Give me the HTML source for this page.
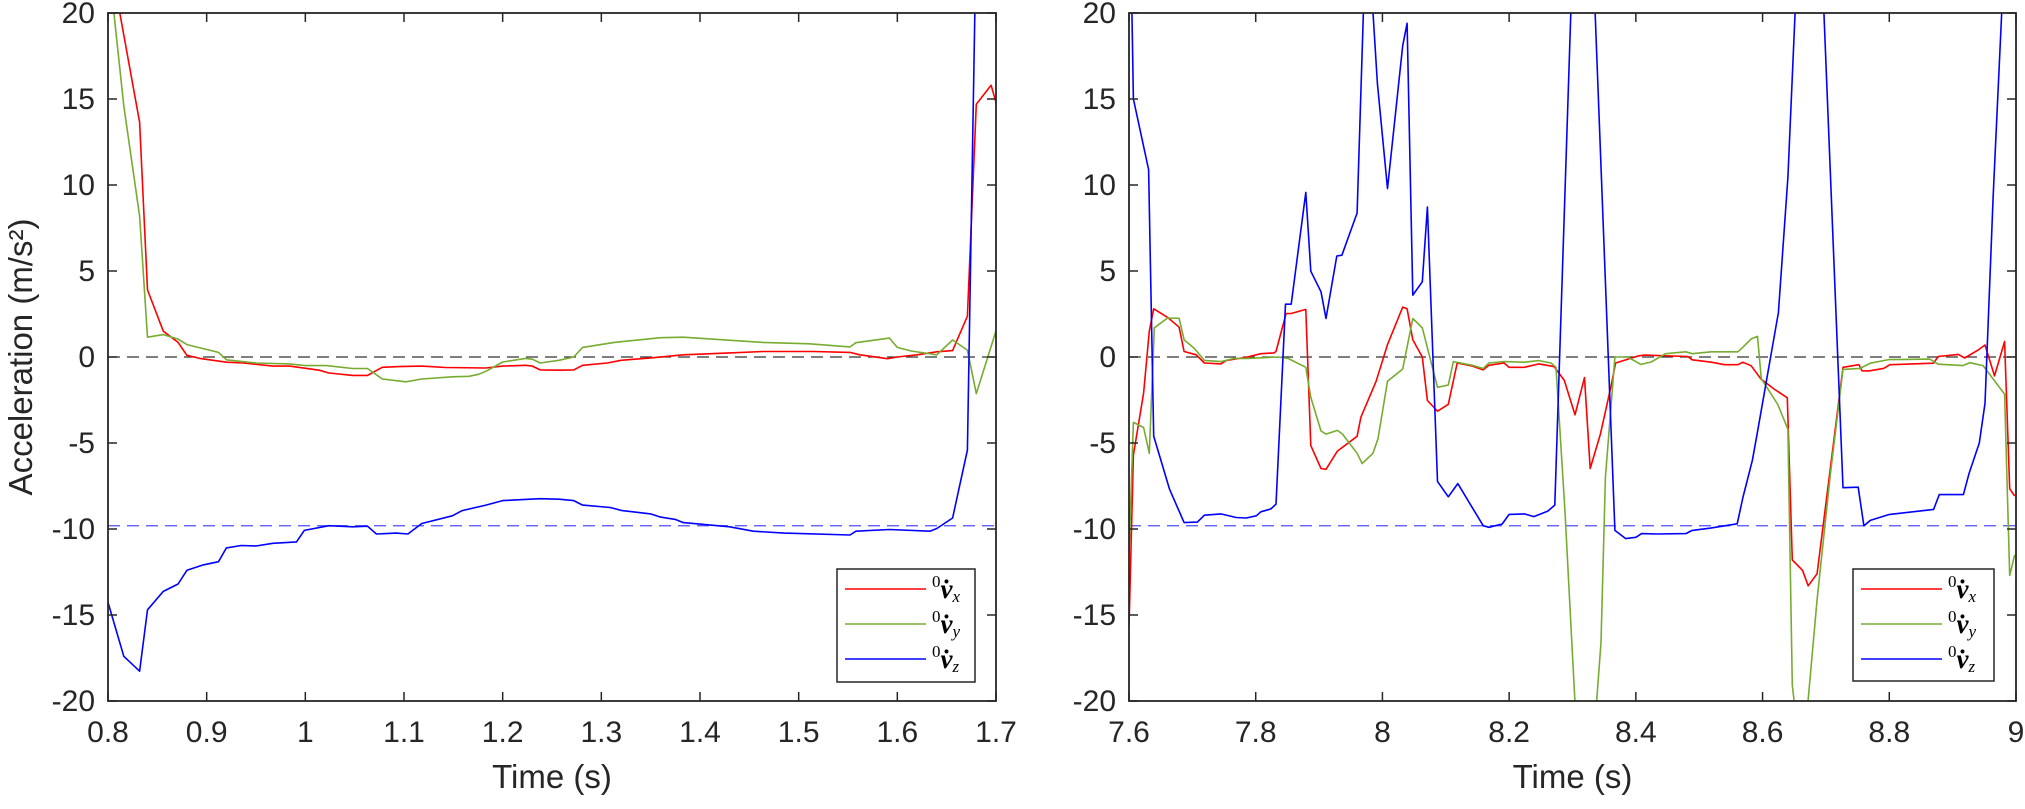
<!DOCTYPE html>
<html><head><meta charset="utf-8"><style>
html,body{margin:0;padding:0;background:#fff;width:2025px;height:809px;overflow:hidden;}
svg{display:block;font-family:"Liberation Sans",Arial,sans-serif;}
</style></head><body>
<svg id="fig" width="2025" height="809" viewBox="0 0 2025 809" xmlns="http://www.w3.org/2000/svg"></svg>
<script>
// ---------- Left panel data ----------
const leftXTicks = [0.8,0.9,1,1.1,1.2,1.3,1.4,1.5,1.6,1.7];
const yTicks = [20,15,10,5,0,-5,-10,-15,-20];
const rightXTicks = [7.6,7.8,8,8.2,8.4,8.6,8.8,9];
const gravityRef = -9.81;

const lRedT = [0.8,0.812,0.832,0.84,0.856,0.871,0.88,0.893,0.92,0.937,0.967,0.984,1.014,1.024,1.048,1.063,1.078,1.095,1.118,1.142,1.183,1.2,1.223,1.23,1.238,1.257,1.272,1.281,1.306,1.32,1.35,1.383,1.43,1.464,1.515,1.552,1.562,1.59,1.6,1.62,1.64,1.656,1.671,1.68,1.695,1.7];
const lRedV = [24,20,13.65,3.9,1.5,0.85,0.1,-0.08,-0.3,-0.35,-0.53,-0.53,-0.77,-0.93,-1.07,-1.07,-0.6,-0.56,-0.53,-0.61,-0.64,-0.53,-0.48,-0.53,-0.75,-0.77,-0.75,-0.48,-0.35,-0.19,-0.05,0.13,0.24,0.32,0.32,0.27,0.13,-0.1,0,0.13,0.3,0.37,2.37,14.7,15.8,14.8];
const lGreenT = [0.8,0.806,0.816,0.832,0.84,0.856,0.871,0.88,0.912,0.92,0.95,0.984,1.0,1.021,1.048,1.063,1.078,1.102,1.118,1.149,1.166,1.176,1.184,1.2,1.223,1.23,1.238,1.257,1.272,1.281,1.313,1.36,1.383,1.464,1.511,1.552,1.558,1.592,1.6,1.614,1.64,1.656,1.671,1.68,1.7];
const lGreenV = [22,20,14.6,8.2,1.15,1.3,1.04,0.72,0.27,-0.16,-0.35,-0.4,-0.5,-0.5,-0.67,-0.67,-1.28,-1.44,-1.28,-1.15,-1.12,-1.0,-0.8,-0.29,-0.08,-0.13,-0.35,-0.19,0,0.56,0.85,1.12,1.15,0.85,0.77,0.59,0.83,1.1,0.56,0.35,0.13,0.99,0.4,-2.13,1.52];
const lBlueT = [0.8,0.816,0.832,0.84,0.856,0.871,0.88,0.897,0.912,0.92,0.935,0.95,0.967,0.991,0.999,1.024,1.048,1.063,1.072,1.092,1.104,1.118,1.149,1.159,1.183,1.2,1.238,1.257,1.272,1.281,1.309,1.321,1.35,1.36,1.375,1.383,1.43,1.454,1.485,1.552,1.558,1.592,1.633,1.64,1.656,1.671,1.68];
const lBlueV = [-14.27,-17.4,-18.27,-14.7,-13.63,-13.2,-12.4,-12.08,-11.9,-11.1,-10.96,-10.99,-10.83,-10.75,-10.08,-9.81,-9.87,-9.84,-10.29,-10.24,-10.29,-9.68,-9.23,-8.93,-8.61,-8.35,-8.24,-8.27,-8.35,-8.61,-8.75,-8.93,-9.12,-9.31,-9.44,-9.63,-9.87,-10.13,-10.24,-10.35,-10.13,-10.03,-10.13,-9.97,-9.36,-5.41,25];

// ---------- Right panel data ----------
const rRedT = [7.6,7.607,7.623,7.632,7.639,7.661,7.679,7.687,7.706,7.719,7.745,7.753,7.787,7.808,7.829,7.832,7.848,7.856,7.879,7.887,7.903,7.911,7.929,7.96,7.966,7.99,8.008,8.032,8.039,8.048,8.063,8.071,8.087,8.104,8.118,8.142,8.159,8.168,8.192,8.2,8.224,8.247,8.271,8.287,8.304,8.319,8.328,8.344,8.361,8.368,8.403,8.413,8.482,8.489,8.519,8.54,8.561,8.569,8.582,8.597,8.618,8.639,8.647,8.663,8.672,8.686,8.727,8.752,8.757,8.768,8.791,8.801,8.87,8.877,8.909,8.919,8.94,8.951,8.966,8.982,8.99,8.998];
const rRedV = [-15.7,-5.7,-2.1,1.5,2.8,2.3,1.73,0.32,0.13,-0.35,-0.4,-0.21,0,0.19,0.24,0.32,2.53,2.53,2.77,-5.15,-6.48,-6.53,-5.47,-4.61,-3.5,-1.41,0.72,2.9,2.8,1.0,0,-2.53,-3.15,-2.75,-0.35,-0.53,-0.75,-0.48,-0.35,-0.6,-0.6,-0.4,-0.56,-1.36,-3.36,-1.2,-6.48,-4.48,-1.68,-0.35,0.05,0.11,0.03,-0.16,-0.3,-0.45,-0.45,-0.3,-0.51,-1.26,-1.86,-2.37,-11.8,-12.4,-13.3,-12.6,-0.6,-0.45,-0.8,-0.81,-0.66,-0.45,-0.36,0.03,0.15,-0.06,0.4,0.7,-1.1,0.9,-7.66,-8.08];
const rGreenT = [7.6,7.607,7.623,7.632,7.64,7.661,7.679,7.687,7.703,7.719,7.745,7.766,7.787,7.835,7.851,7.879,7.887,7.903,7.911,7.929,7.937,7.96,7.968,7.985,7.993,8.008,8.032,8.048,8.063,8.087,8.104,8.112,8.142,8.159,8.168,8.192,8.224,8.247,8.266,8.274,8.288,8.318,8.345,8.352,8.367,8.387,8.408,8.424,8.447,8.479,8.489,8.519,8.561,8.569,8.582,8.592,8.598,8.624,8.64,8.647,8.662,8.686,8.707,8.727,8.754,8.77,8.799,8.864,8.877,8.916,8.927,8.948,8.982,8.99,8.998];
const rGreenV = [-11.5,-3.8,-4.1,-5.6,1.7,2.27,2.25,1.0,0.5,-0.2,-0.27,-0.08,-0.08,0,-0.08,-0.6,-2.35,-4.3,-4.48,-4.27,-4.48,-5.6,-6.2,-5.6,-4.75,-1.41,-0.7,2.24,1.7,-1.76,-1.63,-0.27,-0.48,-0.67,-0.35,-0.27,-0.3,-0.21,-0.35,-0.6,-8.9,-30,-16.6,-7,0,0,-0.43,-0.29,0.19,0.3,0.19,0.3,0.3,0.57,1.05,1.2,-1.26,-2.76,-4.2,-19.07,-24,-14.1,-6.8,-0.72,-0.66,-0.36,-0.15,-0.12,-0.42,-0.5,-0.33,-0.5,-2.16,-12.7,-11.5];
const rBlueT = [7.6,7.607,7.631,7.639,7.664,7.687,7.708,7.719,7.745,7.769,7.785,7.801,7.808,7.824,7.832,7.847,7.856,7.879,7.887,7.903,7.911,7.928,7.936,7.96,7.975,7.992,8.008,8.032,8.039,8.048,8.063,8.071,8.087,8.104,8.119,8.159,8.168,8.189,8.2,8.224,8.239,8.261,8.272,8.315,8.367,8.384,8.4,8.409,8.432,8.479,8.489,8.518,8.56,8.569,8.584,8.592,8.625,8.64,8.675,8.727,8.751,8.76,8.77,8.799,8.87,8.879,8.917,8.926,8.942,8.951,8.964,8.99];
const rBlueV = [30,15,10.9,-4.6,-7.68,-9.63,-9.6,-9.2,-9.12,-9.33,-9.36,-9.23,-9.0,-8.83,-8.56,3.07,3.07,9.57,4.99,3.79,2.24,5.87,5.92,8.37,26,15.9,9.79,18.1,19.4,3.6,4.37,8.72,-7.23,-8.13,-7.36,-9.81,-9.9,-9.71,-9.15,-9.12,-9.28,-8.96,-8.61,40,-10.08,-10.56,-10.48,-10.27,-10.29,-10.27,-10.08,-9.95,-9.7,-8.17,-6.0,-4.35,2.58,10.45,40,-7.6,-7.57,-9.82,-9.5,-9.16,-8.86,-8.0,-8.0,-6.76,-5.0,-2.7,9.4,30];

const NS = "http://www.w3.org/2000/svg";
const svg = document.getElementById('fig');
function mk(tag, attrs, parent){
  const e = document.createElementNS(NS, tag);
  for (const k in attrs) e.setAttribute(k, attrs[k]);
  (parent||svg).appendChild(e);
  return e;
}
const Y0 = 13, Y1 = 701;
function yScale(v){ return Y0 + (20 - v) / 40 * (Y1 - Y0); }
const panels = [
  {id:'left', x0:108, x1:996, t0:0.8, t1:1.7, ticks:leftXTicks,
   series:[[lRedT,lRedV,'#ff0000','vx'],[lGreenT,lGreenV,'#77ac30','vy'],[lBlueT,lBlueV,'#0000ff','vz']],
   legend:{x:837,y:569,w:138,h:113}},
  {id:'right', x0:1129, x1:2016, t0:7.6, t1:9.0, ticks:rightXTicks,
   series:[[rRedT,rRedV,'#ff0000','vx'],[rGreenT,rGreenV,'#77ac30','vy'],[rBlueT,rBlueV,'#0000ff','vz']],
   legend:{x:1853,y:569,w:141,h:112}}
];
panels.forEach(p => {
  const xs = t => p.x0 + (t - p.t0) / (p.t1 - p.t0) * (p.x1 - p.x0);
  const g = mk('g', {});
  
  
  const cp = mk('clipPath', {id:'clip-'+p.id}, g);
  mk('rect', {x:p.x0, y:Y0, width:p.x1-p.x0, height:Y1-Y0}, cp);
  const z = mk('line', {x1:p.x0, x2:p.x1, y1:yScale(0), y2:yScale(0), stroke:'#333', 'stroke-width':1.3, 'stroke-dasharray':'12,7'}, g);
  
  
  const gr = mk('line', {x1:p.x0, x2:p.x1, y1:yScale(gravityRef), y2:yScale(gravityRef), stroke:'#4d4dff', 'stroke-width':1.3, 'stroke-dasharray':'12,7'}, g);
  
  
  const sg = mk('g', {'clip-path':'url(#clip-'+p.id+')'}, g);
  p.series.forEach(s => {
    const pts = s[0].map((t,i) => xs(t).toFixed(1) + ',' + yScale(s[1][i]).toFixed(1)).join(' ');
    const pl = mk('polyline', {points:pts, fill:'none', stroke:s[2], 'stroke-width':1.6, 'stroke-linejoin':'round'}, sg);
    
    
  });
  const box = mk('rect', {x:p.x0, y:Y0, width:p.x1-p.x0, height:Y1-Y0, fill:'none', stroke:'#262626', 'stroke-width':1.8}, g);
  
  
  p.ticks.forEach(t => {
    const x = xs(t);
    mk('line', {x1:x, x2:x, y1:Y1, y2:Y1-9, stroke:'#262626', 'stroke-width':1.5}, g);
    mk('line', {x1:x, x2:x, y1:Y0, y2:Y0+9, stroke:'#262626', 'stroke-width':1.5}, g);
    const tx = mk('text', {x:x, y:742, 'font-size':30, fill:'#262626', 'text-anchor':'middle'}, g);
    tx.textContent = String(t);
    
    
  });
  yTicks.forEach(v => {
    const y = yScale(v);
    mk('line', {x1:p.x0, x2:p.x0+9, y1:y, y2:y, stroke:'#262626', 'stroke-width':1.5}, g);
    mk('line', {x1:p.x1, x2:p.x1-9, y1:y, y2:y, stroke:'#262626', 'stroke-width':1.5}, g);
    const ty = mk('text', {x:p.x0-13, y:y+10, 'font-size':30, fill:'#262626', 'text-anchor':'end'}, g);
    ty.textContent = String(v);
    
    
  });
  const xt = mk('text', {x:(p.x0+p.x1)/2, y:788, 'font-size':33, fill:'#262626', 'text-anchor':'middle'}, g);
  xt.textContent = 'Time (s)';
  
  
  const L = p.legend;
  const lg = mk('g', {}, g);
  
  
  mk('rect', {x:L.x, y:L.y, width:L.w, height:L.h, fill:'#fff', stroke:'#262626', 'stroke-width':1.5}, lg);
  const subs = ['x','y','z'];
  p.series.forEach((s,i) => {
    const ly = L.y + 20 + i*35;
    const e = mk('g', {}, lg);
    
    
    mk('line', {x1:L.x+8, x2:L.x+89, y1:ly, y2:ly, stroke:s[2], 'stroke-width':1.6}, e);
    const t = mk('text', {x:L.x+95, y:ly+9, fill:'#000', 'font-family':'"Liberation Serif",serif', 'font-size':27}, e);
    const a = mk('tspan', {'font-size':17, dy:-11}, t); a.textContent = '0';
    const b = mk('tspan', {'font-style':'italic', dy:11, 'font-weight':'bold'}, t); b.textContent = 'v\u0307';
    const c = mk('tspan', {'font-style':'italic', 'font-size':17, dy:4}, t); c.textContent = subs[i];
  });
});
const yl = mk('text', {x:0, y:0, 'font-size':33, fill:'#262626', 'text-anchor':'middle', transform:'translate(32,357) rotate(-90)'});
yl.textContent = 'Acceleration (m/s\u00b2)';


</script>
</body></html>
